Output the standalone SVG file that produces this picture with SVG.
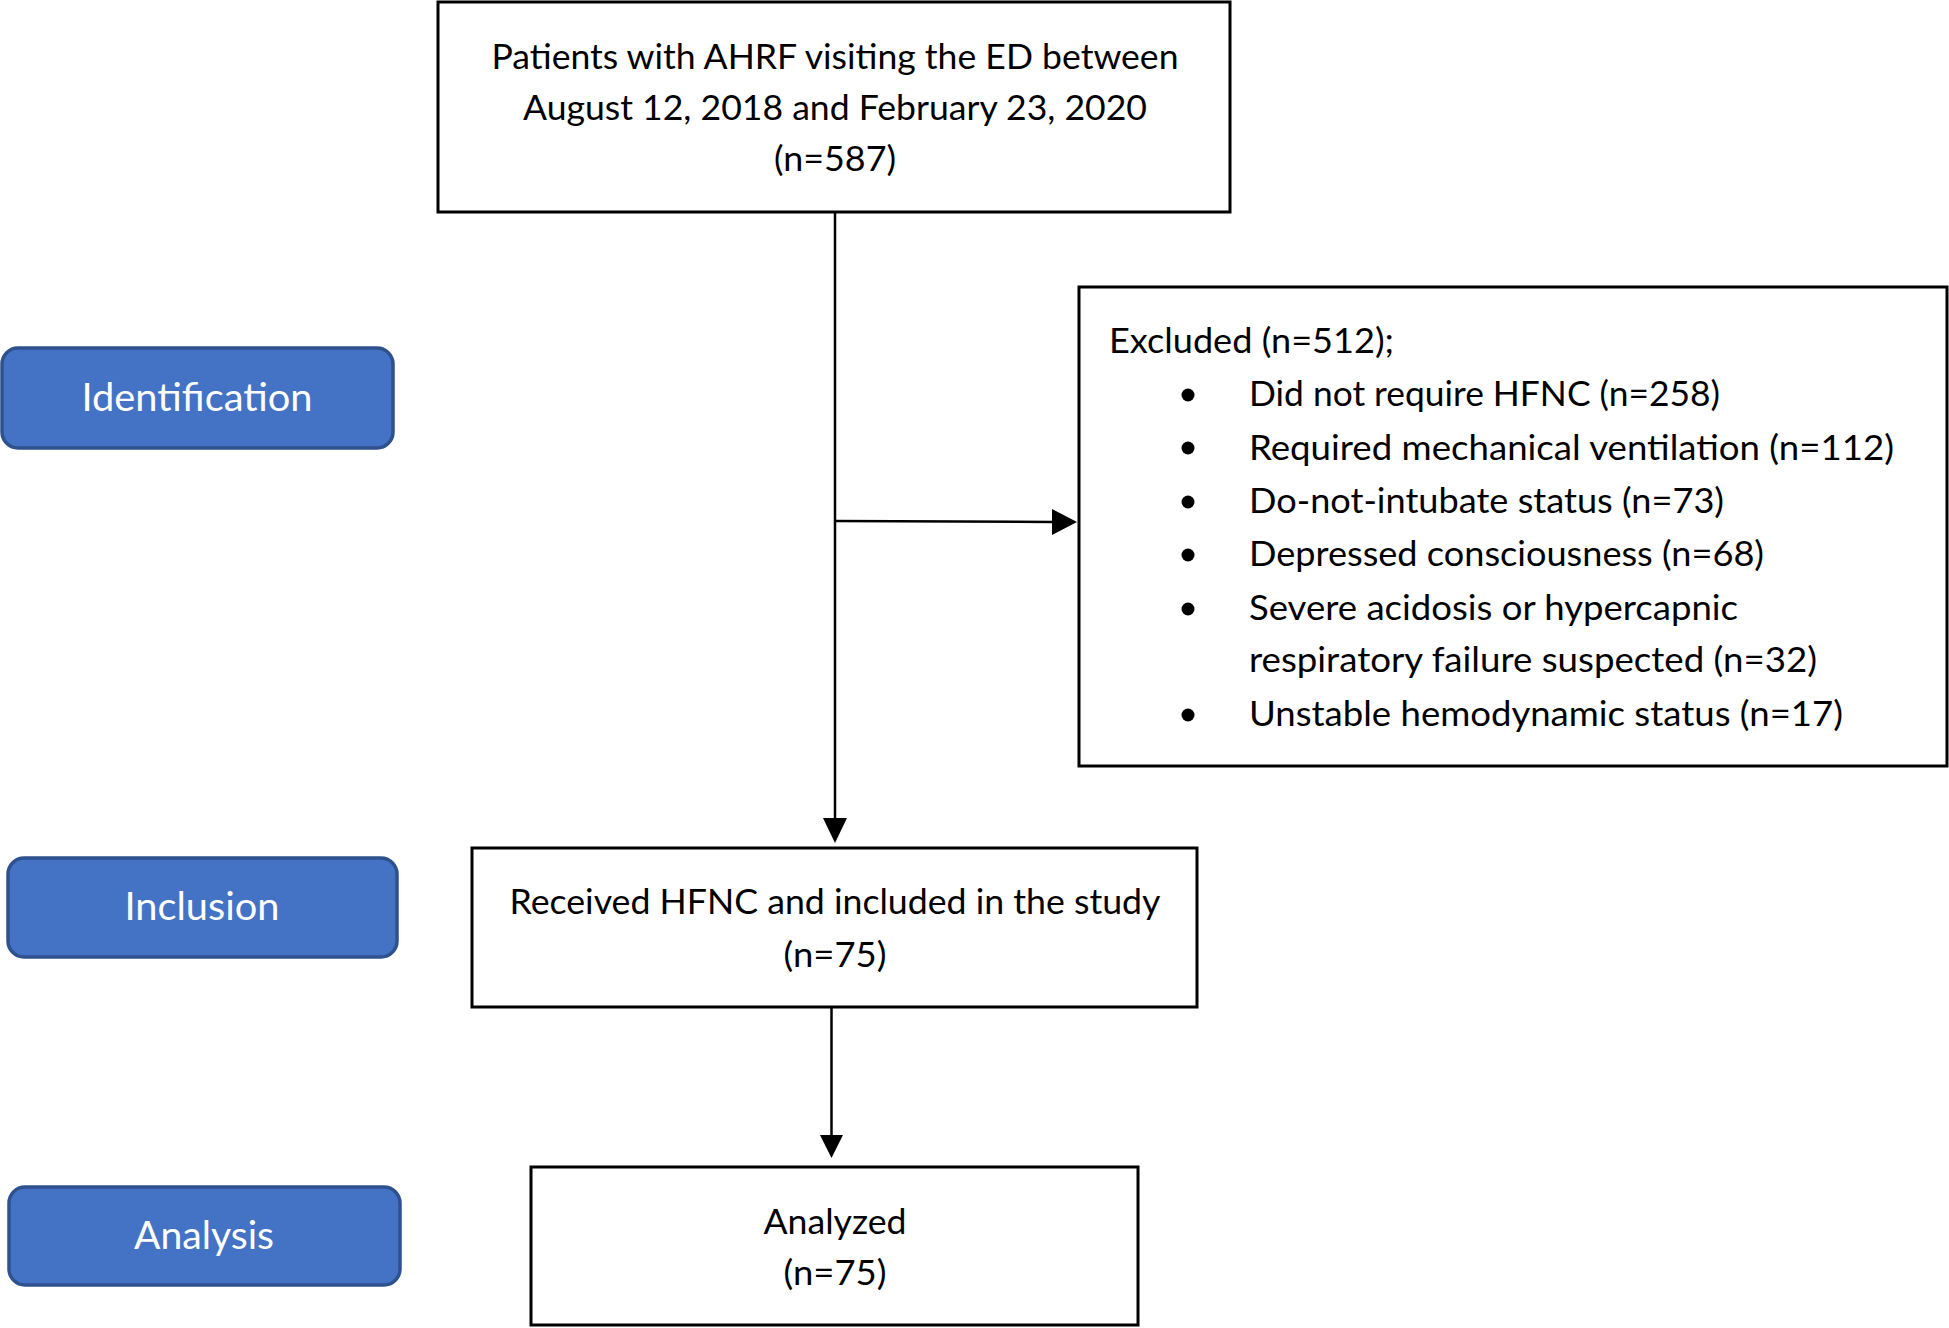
<svg xmlns="http://www.w3.org/2000/svg" width="1949" height="1328" viewBox="0 0 1949 1328">
<defs>
<style>
.box{fill:#fff;stroke:#000;stroke-width:3}
.lbl{fill:#4472C4;stroke:#2F528F;stroke-width:3.5}
.t{font-family:Lato,"Liberation Sans",sans-serif;font-size:35px;fill:#000}
.c{text-anchor:middle}
.w{font-family:Lato,"Liberation Sans",sans-serif;font-size:38px;fill:#fff;text-anchor:middle}
.ln{stroke:#000;stroke-width:2.5;fill:none}
</style>
</defs>
<rect width="1949" height="1328" fill="#fff"/>
<g id="connectors">
<line class="ln" x1="835" y1="212" x2="835" y2="820"/>
<path d="M823,818 L847,818 L835,843 Z" fill="#000"/>
<line class="ln" x1="835" y1="521" x2="1054" y2="522"/>
<path d="M1052,509 L1077,522 L1052,535 Z" fill="#000"/>
<line class="ln" x1="831.5" y1="1007" x2="831.5" y2="1137"/>
<path d="M820,1135 L843,1135 L831.5,1158 Z" fill="#000"/>
</g>
<g id="label-identification">
<rect class="lbl" x="2" y="348" width="391" height="100" rx="16"/>
<text class="w" x="197" y="411" textLength="231" lengthAdjust="spacingAndGlyphs">Identification</text>
</g>
<g id="label-inclusion">
<rect class="lbl" x="8" y="858" width="389" height="99" rx="16"/>
<text class="w" x="202" y="920" textLength="155" lengthAdjust="spacingAndGlyphs">Inclusion</text>
</g>
<g id="label-analysis">
<rect class="lbl" x="9" y="1187" width="391" height="98" rx="16"/>
<text class="w" x="204" y="1249" textLength="140" lengthAdjust="spacingAndGlyphs">Analysis</text>
</g>
<g id="node-patients">
<rect class="box" x="438" y="2" width="792" height="210"/>
<text class="t c" x="835" y="69" textLength="687" lengthAdjust="spacingAndGlyphs">Patients with AHRF visiting the ED between</text>
<text class="t c" x="835" y="120" textLength="624" lengthAdjust="spacingAndGlyphs">August 12, 2018 and February 23, 2020</text>
<text class="t c" x="835" y="171" textLength="122" lengthAdjust="spacingAndGlyphs">(n=587)</text>
</g>
<g id="node-excluded">
<rect class="box" x="1079" y="287" width="868" height="479"/>
<text class="t" x="1109" y="353" textLength="285" lengthAdjust="spacingAndGlyphs">Excluded (n=512);</text>
<g fill="#000">
<circle cx="1188" cy="395" r="6.5"/>
<circle cx="1188" cy="448" r="6.5"/>
<circle cx="1188" cy="502" r="6.5"/>
<circle cx="1188" cy="555" r="6.5"/>
<circle cx="1188" cy="609" r="6.5"/>
<circle cx="1188" cy="715" r="6.5"/>
</g>
<text class="t" x="1249" y="406" textLength="471" lengthAdjust="spacingAndGlyphs">Did not require HFNC (n=258)</text>
<text class="t" x="1249" y="460" textLength="645" lengthAdjust="spacingAndGlyphs">Required mechanical ventilation (n=112)</text>
<text class="t" x="1249" y="513" textLength="475" lengthAdjust="spacingAndGlyphs">Do-not-intubate status (n=73)</text>
<text class="t" x="1249" y="566" textLength="515" lengthAdjust="spacingAndGlyphs">Depressed consciousness (n=68)</text>
<text class="t" x="1249" y="620" textLength="489" lengthAdjust="spacingAndGlyphs">Severe acidosis or hypercapnic</text>
<text class="t" x="1249" y="672" textLength="568" lengthAdjust="spacingAndGlyphs">respiratory failure suspected (n=32)</text>
<text class="t" x="1249" y="726" textLength="594" lengthAdjust="spacingAndGlyphs">Unstable hemodynamic status (n=17)</text>
</g>
<g id="node-included">
<rect class="box" x="472" y="848" width="725" height="159"/>
<text class="t c" x="835" y="914" textLength="651" lengthAdjust="spacingAndGlyphs">Received HFNC and included in the study</text>
<text class="t c" x="835" y="967" textLength="103" lengthAdjust="spacingAndGlyphs">(n=75)</text>
</g>
<g id="node-analyzed">
<rect class="box" x="531" y="1167" width="607" height="158"/>
<text class="t c" x="835" y="1234" textLength="143" lengthAdjust="spacingAndGlyphs">Analyzed</text>
<text class="t c" x="835" y="1285" textLength="103" lengthAdjust="spacingAndGlyphs">(n=75)</text>
</g>
</svg>
